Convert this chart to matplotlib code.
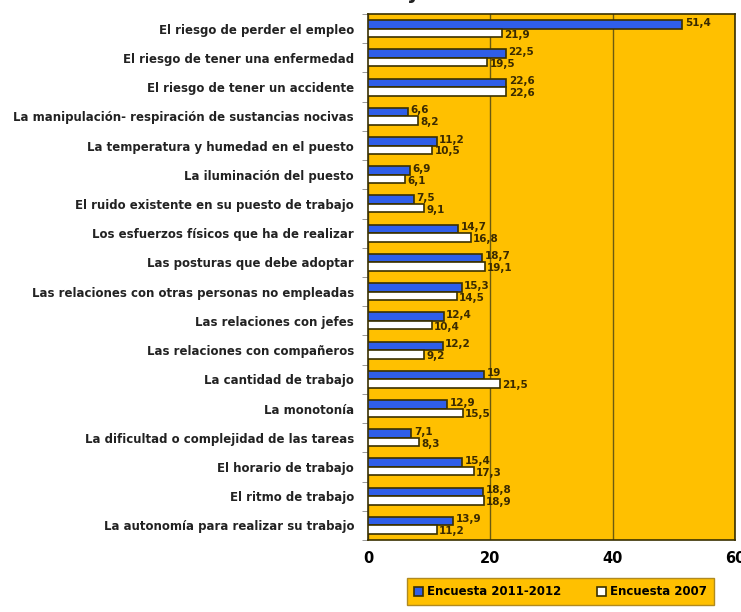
import matplotlib.pyplot as plt
import numpy as np

categorias = [
    "El riesgo de perder el empleo",
    "El riesgo de tener una enfermedad",
    "El riesgo de tener un accidente",
    "La manipulación- respiración de sustancias nocivas",
    "La temperatura y humedad en el puesto",
    "La iluminación del puesto",
    "El ruido existente en su puesto de trabajo",
    "Los esfuerzos físicos que ha de realizar",
    "Las posturas que debe adoptar",
    "Las relaciones con otras personas no empleadas",
    "Las relaciones con jefes",
    "Las relaciones con compañeros",
    "La cantidad de trabajo",
    "La monotonía",
    "La dificultad o complejidad de las tareas",
    "El horario de trabajo",
    "El ritmo de trabajo",
    "La autonomía para realizar su trabajo",
]
enc2012 = [51.4, 22.5, 22.6, 6.6, 11.2, 6.9, 7.5, 14.7, 18.7, 15.3, 12.4, 12.2, 19, 12.9, 7.1, 15.4, 18.8, 13.9]
enc2007 = [21.9, 19.5, 22.6, 8.2, 10.5, 6.1, 9.1, 16.8, 19.1, 14.5, 10.4, 9.2, 21.5, 15.5, 8.3, 17.3, 18.9, 11.2]
xticks = [0, 20, 40, 60]

plt.rcParams['font.family'] = ['DejaVu Sans']

naranja = '#FFC000'
azul = '#2F5EE8'
borde = '#3A3000'

fig = plt.figure(figsize=(7.41, 6.12), dpi=100)
ax = fig.add_axes([0.4966, 0.1176, 0.4954, 0.8595])
ax.set_facecolor(naranja)

y = np.arange(len(categorias))
h = 0.29
ax.barh(y - h / 2, enc2012, height=h, color=azul, edgecolor=borde, linewidth=1.2,
        label='Encuesta 2011-2012', zorder=3)
ax.barh(y + h / 2, enc2007, height=h, color='white', edgecolor=borde, linewidth=1.2,
        label='Encuesta 2007', zorder=3)

def fmt(v):
    s = ('%g' % v).replace('.', ',')
    return s

for i in range(len(categorias)):
    ax.text(enc2012[i] + 0.4, y[i] - h * 0.7, fmt(enc2012[i]), fontsize=7.5, fontweight='bold',
            color='#3A2A00', va='center', ha='left', zorder=4)
    ax.text(enc2007[i] + 0.4, y[i] + h * 0.7, fmt(enc2007[i]), fontsize=7.5, fontweight='bold',
            color='#3A2A00', va='center', ha='left', zorder=4)

ax.set_xlim(0, 60)
ax.set_ylim(len(categorias) - 0.5, -0.5)
ax.set_xticks(xticks)
ax.set_xticklabels([str(t) for t in xticks], fontsize=10.5, fontweight='bold')
ax.tick_params(axis='x', length=0, pad=8)
ax.xaxis.grid(True, color='#6B5A10', linewidth=1, zorder=1)

ax.set_yticks(y)
ax.set_yticklabels(categorias, fontsize=8.5, fontweight='bold', color='#222222')
ax.set_yticks(np.arange(len(categorias) + 1) - 0.5, minor=True)
ax.tick_params(axis='y', which='major', length=0, pad=10)
ax.tick_params(axis='y', which='minor', length=4, color='#888888')

for s in ax.spines.values():
    s.set_color(borde)
    s.set_linewidth(1.2)

leg = fig.legend(loc='center', bbox_to_anchor=(0.756, 0.033), ncol=2, fontsize=8.5,
                 frameon=True, fancybox=False, handlelength=0.8, handleheight=0.8,
                 handletextpad=0.3, columnspacing=3.0, borderpad=0.6)
leg.get_frame().set_facecolor(naranja)
leg.get_frame().set_edgecolor('#B08A20')
leg.get_frame().set_alpha(1)
for t in leg.get_texts():
    t.set_fontweight('bold')

fig.text(0.5, 1.012, 'de trabajo', fontsize=15, fontweight='bold', ha='center', va='center',
         color='#222222')

fig.savefig('out.png', dpi=100)
